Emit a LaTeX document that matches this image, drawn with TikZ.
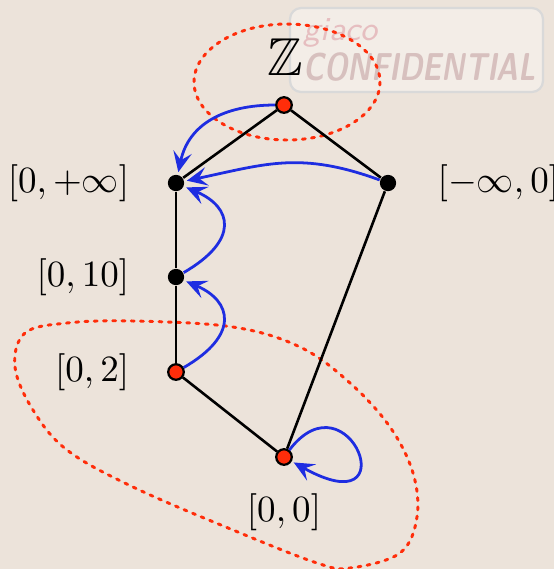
\documentclass[tikz,border=0pt]{standalone}
\usepackage{amssymb}
\usetikzlibrary{arrows.meta}
\definecolor{bg}{RGB}{236,227,218}
\definecolor{dotred}{RGB}{255,45,10}
\definecolor{arrblue}{RGB}{30,45,225}
\definecolor{wmtext}{RGB}{215,192,190}
\definecolor{wmpink}{RGB}{230,190,192}
\tikzset{
  bdot/.style={circle,fill=black,inner sep=0pt,minimum size=4.4pt},
  rdot/.style={circle,fill=dotred,draw=black,line width=0.6pt,inner sep=0pt,minimum size=4.2pt},
  edge/.style={line width=0.7pt,black},
  barrow/.style={line width=0.75pt,arrblue,-{Stealth[length=5.5pt,width=5pt,inset=2.2pt]},shorten >=0.6pt},
  blob/.style={dotred,line width=0.8pt,dash pattern=on 0.8pt off 1.7pt,line cap=round},
  lab/.style={inner sep=0pt}
}
\begin{document}
\begin{tikzpicture}[x=0.27pt,y=-0.27pt]
\fill[bg] (0,0) rectangle (554,569);
\useasboundingbox (0,0) rectangle (554,569);
% watermark
\draw[gray!30,line width=0.6pt,fill=white!35!bg,rounded corners=3pt] (290,8) rectangle (543,92);
\node[lab,anchor=west,text=wmpink,font=\sffamily\itshape\small] (wmg) at (303,33) {giaco};
\node[lab,anchor=west,text=wmtext,font=\sffamily\bfseries\itshape,xscale=0.8,yscale=1.05] (wmc) at (303,67) {CONFIDENTIAL};
% dotted regions
\draw[blob] (287,82) ellipse (93 and 58);
\draw[blob] plot[smooth cycle,tension=0.6] coordinates {(25,333) (15,367) (33,410) (67,450) (133,487) (233,530) (317,563) (350,568) (400,553) (417,517) (413,473) (390,427) (350,383) (300,347) (233,327) (133,321) (67,323)};
% nodes
\node[rdot] (top) at (284,105) {};
\node[bdot] (pinf) at (176,183) {};
\node[bdot] (minf) at (388,183) {};
\node[bdot] (p10) at (176,277) {};
\node[rdot] (p2) at (176,372) {};
\node[rdot] (p0) at (284,457) {};
% edges
\draw[edge] (top) -- (pinf);
\draw[edge] (top) -- (minf);
\draw[edge] (pinf) -- (p10);
\draw[edge] (p10) -- (p2);
\draw[edge] (p2) -- (p0);
\draw[edge] (p0) -- (minf);
% labels
\node[lab,font=\Large] (lz) at (285,57) {$\mathbb{Z}$};
\node[lab,anchor=east] (lpinf) at (130,183) {$[0,+\infty]$};
\node[lab,anchor=west] (lminf) at (437,183) {$[-\infty,0]$};
\node[lab,anchor=east] (l10) at (130,277) {$[0,10]$};
\node[lab,anchor=east] (l2) at (130,372) {$[0,2]$};
\node[lab] (l0) at (284,512) {$[0,0]$};
% blue arrows
\draw[barrow] (top) to[out=180,in=78,looseness=1.1] (pinf);
\draw[barrow] (minf) to[out=160,in=12,looseness=1.1] (pinf);
\draw[barrow] (p10) .. controls +(64,-37) and +(56,24) .. (pinf);
\draw[barrow] (p2) .. controls +(64,-37) and +(56,24) .. (p10);
\draw[barrow] (p0) .. controls +(65,-85) and +(125,70) .. (p0);
\end{tikzpicture}
\end{document}
